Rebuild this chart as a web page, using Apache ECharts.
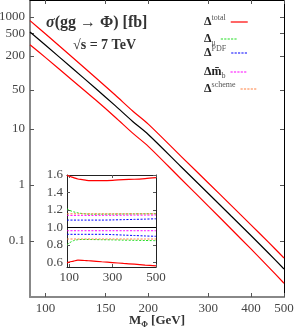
<!DOCTYPE html>
<html><head><meta charset="utf-8">
<script src="https://cdn.jsdelivr.net/npm/echarts@6/dist/echarts.min.js"></script>
<style>html,body{margin:0;padding:0;background:#fff}#c{width:295px;height:329px}</style>
</head><body><div id="c"></div>
<script>
// ---- data ----
const masses = [90,100,120,140,160,180,200,250,300,350,400,450,500];
const sigmaCentral = [537,311,119.8,53.1,26.0,13.6,7.95,2.09,0.704,0.279,0.125,0.061,0.0316];
const sigmaUpper   = [857,493,188,82.5,40.2,20.9,12.2,3.21,1.083,0.432,0.194,0.0951,0.0496];
const sigmaLower   = [318,187,73.3,33.1,16.2,8.40,4.89,1.264,0.420,0.1635,0.0721,0.0346,0.0176];

const ratioTotalUp  = [1.596,1.585,1.570,1.554,1.547,1.539,1.536,1.536,1.539,1.547,1.551,1.559,1.570];
const ratioTotalLo  = [0.593,0.601,0.612,0.624,0.622,0.618,0.615,0.605,0.596,0.586,0.577,0.567,0.558];
const ratioMuUp     = [1.212,1.197,1.178,1.166,1.158,1.153,1.151,1.151,1.152,1.153,1.154,1.155,1.156];
const ratioMuLo     = [0.800,0.820,0.847,0.858,0.861,0.861,0.860,0.858,0.856,0.853,0.851,0.849,0.847];
const ratioPdfUp    = [1.083,1.083,1.083,1.083,1.083,1.083,1.083,1.083,1.085,1.088,1.091,1.094,1.098];
const ratioPdfLo    = [0.920,0.920,0.920,0.920,0.920,0.920,0.920,0.920,0.916,0.911,0.906,0.901,0.897];
const ratioMbUp     = [1.137,1.137,1.137,1.137,1.137,1.137,1.137,1.138,1.138,1.139,1.140,1.140,1.141];
const ratioMbLo     = [0.961,0.961,0.961,0.961,0.961,0.961,0.961,0.961,0.961,0.961,0.961,0.961,0.961];
const ratioSchemeUp = [1.155,1.155,1.155,1.155,1.155,1.155,1.155,1.155,1.155,1.155,1.155,1.155,1.155];
const ratioSchemeLo = [0.866,0.866,0.866,0.866,0.866,0.866,0.866,0.866,0.866,0.866,0.866,0.866,0.866];
const ratioCentral = 1.0;

const xTicksMain  = [100,150,200,300,400,500];
const yTicksMain  = [1000,500,200,50,10,1,0.1];
const xTicksInset = [100,300,500];
const yTicksInset = [0.6,0.8,1.0,1.2,1.4,1.6];

const legendNames = ['total','mu','pdf','mb','scheme'];
const legendLabels = ['{d|Δ}{sup|total}','{d|Δ}{sub|μ}','{d|Δ}{sup|PDF}','{d|Δ}{d|m̄}{sub|b}','{d|Δ}{sup|scheme}'];

// ---- styles ----
const FONT = "'Liberation Serif','DejaVu Serif',serif";
const pairs = arr => masses.map((m,i)=>[m, arr[i]]);
const fmtNum = v => String(+(+v).toPrecision(4));

// legend icons: a solid or dashed horizontal stroke inside a 17x16 box
const ICON_SOLID = 'path://M0,0L0,0M17,16L17,16M0,7.4h17v1.2h-17z';
let dashPath = 'path://M0,0L0,0M17,16L17,16';
for (let x = 0; x < 17; x += 3.4) dashPath += 'M' + x + ',7.5h2.2v1h-2.2z';
const ICON_DASH = dashPath;

const chart = echarts.init(document.getElementById('c'), null, {renderer:'canvas'});

function lineS(name, xi, yi, arr, color, dashed, width){
  return {name, type:'line', xAxisIndex:xi, yAxisIndex:yi, data:pairs(arr),
    symbol:'none', showSymbol:false, smooth:0.3, silent:true, animation:false,
    lineStyle:{color, width: width||1, type: dashed ? [2,1.5] : 'solid'},
    itemStyle:{color}};
}

const labelStyle = {fontFamily:FONT, fontSize:13, color:'#444'};

const legendRich = {
  d:{fontFamily:FONT, fontSize:12, fontWeight:'bold', color:'#222', lineHeight:16},
  sup:{fontFamily:FONT, fontSize:8, color:'#555', lineHeight:9, verticalAlign:'top'},
  sub:{fontFamily:FONT, fontSize:8, color:'#555', lineHeight:9, verticalAlign:'bottom'}
};
const legendTops = [22,39,53,72,89];
const legendDashed = [false,true,true,true,true];

const option = {
  animation:false,
  backgroundColor:'#fff',
  title:[
    {text:'{i|σ}{b|(gg → Φ) [fb]}', left:46, top:15, padding:0,
     textStyle:{rich:{
       i:{fontFamily:FONT, fontStyle:'italic', fontSize:16, color:'#333'},
       b:{fontFamily:FONT, fontWeight:'bold', fontSize:16, color:'#333'}}}},
    {text:'√s = 7 TeV', left:73, top:38, padding:0,
     textStyle:{fontFamily:FONT, fontWeight:'bold', fontSize:14, color:'#333'}}
  ],
  legend: legendNames.map((n,k)=>({
    data:[n], left:204, top:legendTops[k]-8, padding:0, itemWidth:17, itemHeight:16,
    align:'right', selectedMode:false, icon: legendDashed[k] ? ICON_DASH : ICON_SOLID,
    formatter: () => legendLabels[k],
    textStyle:{width:43, rich:legendRich}
  })),
  grid:[
    {left:30, top:0, width:254, height:297, containLabel:false, outerBoundsMode:'none'},
    {left:67, top:175, width:89, height:92, containLabel:false, outerBoundsMode:'none',
     show:true, backgroundColor:'#fff', borderWidth:0}
  ],
  xAxis:[
    {gridIndex:0, type:'log', logBase:10, min:90, max:500, position:'bottom',
     axisLine:{show:true, lineStyle:{color:'#888', width:2}},
     axisTick:{show:true, inside:true, length:4, customValues:xTicksMain, lineStyle:{color:'#555'}},
     axisLabel:{show:true, customValues:xTicksMain, margin:5, formatter:fmtNum, ...labelStyle},
     splitLine:{show:false}, minorTick:{show:false},
     name:'{b|M}{s|Φ}{b| [GeV]}', nameLocation:'middle', nameGap:16, nameMoveOverlap:false,
     nameTextStyle:{rich:{
       b:{fontFamily:FONT, fontWeight:'bold', fontSize:13, color:'#333', lineHeight:16},
       s:{fontFamily:FONT, fontWeight:'bold', fontSize:8, color:'#333', lineHeight:8, verticalAlign:'bottom'}}}},
    {gridIndex:0, type:'log', logBase:10, min:90, max:500, position:'top',
     axisLine:{show:true, lineStyle:{color:'#000', width:1}},
     axisTick:{show:true, inside:true, length:4, customValues:xTicksMain, lineStyle:{color:'#555'}},
     axisLabel:{show:false}, splitLine:{show:false}},
    {gridIndex:1, type:'value', min:90, max:500, position:'bottom',
     axisLine:{show:true, lineStyle:{color:'#222', width:1}},
     axisTick:{show:true, inside:true, length:3, customValues:xTicksInset, lineStyle:{color:'#555'}},
     axisLabel:{show:true, customValues:xTicksInset, margin:4, ...labelStyle},
     splitLine:{show:false}},
    {gridIndex:1, type:'value', min:90, max:500, position:'top',
     axisLine:{show:true, lineStyle:{color:'#222', width:1}},
     axisTick:{show:true, inside:true, length:3, customValues:xTicksInset, lineStyle:{color:'#555'}},
     axisLabel:{show:false}, splitLine:{show:false}}
  ],
  yAxis:[
    {gridIndex:0, type:'log', logBase:10, min:0.01, max:2000, position:'left',
     axisLine:{show:true, lineStyle:{color:'#888', width:2}},
     axisTick:{show:true, inside:true, length:4, customValues:yTicksMain, lineStyle:{color:'#555'}},
     axisLabel:{show:true, customValues:yTicksMain, margin:5, formatter:fmtNum, ...labelStyle},
     splitLine:{show:false}},
    {gridIndex:0, type:'log', logBase:10, min:0.01, max:2000, position:'right',
     axisLine:{show:true, lineStyle:{color:'#000', width:1}},
     axisTick:{show:true, inside:true, length:4, customValues:yTicksMain, lineStyle:{color:'#555'}},
     axisLabel:{show:false}, splitLine:{show:false}},
    {gridIndex:1, type:'value', min:0.545, max:1.6, position:'left',
     axisLine:{show:true, lineStyle:{color:'#222', width:1}},
     axisTick:{show:true, inside:true, length:3, customValues:yTicksInset, lineStyle:{color:'#555'}},
     axisLabel:{show:true, customValues:yTicksInset, margin:4, formatter:v=>(+v).toFixed(1), ...labelStyle},
     splitLine:{show:false}},
    {gridIndex:1, type:'value', min:0.545, max:1.6, position:'right',
     axisLine:{show:true, lineStyle:{color:'#222', width:1}},
     axisTick:{show:true, inside:true, length:3, customValues:yTicksInset, lineStyle:{color:'#555'}},
     axisLabel:{show:false}, splitLine:{show:false}}
  ],
  series:[
    lineS('main upper',0,0,sigmaUpper,'#ff0000',false,1.2),
    lineS('main central',0,0,sigmaCentral,'#000000',false,1.2),
    lineS('main lower',0,0,sigmaLower,'#ff0000',false,1.2),
    Object.assign(lineS('total',2,2,ratioTotalUp,'#ff0000',false,1.2), {
      markLine:{silent:true, symbol:'none', label:{show:false}, animation:false,
        lineStyle:{color:'#000', width:1, type:'solid'}, data:[{yAxis:ratioCentral}]}}),
    lineS('total',2,2,ratioTotalLo,'#ff0000',false,1.2),
    lineS('mu',2,2,ratioMuUp,'#22dd22',true),
    lineS('mu',2,2,ratioMuLo,'#22dd22',true),
    lineS('pdf',2,2,ratioPdfUp,'#0000ff',true),
    lineS('pdf',2,2,ratioPdfLo,'#0000ff',true),
    lineS('mb',2,2,ratioMbUp,'#ff00ff',true),
    lineS('mb',2,2,ratioMbLo,'#ff00ff',true),
    lineS('scheme',2,2,ratioSchemeUp,'#ff8040',true),
    lineS('scheme',2,2,ratioSchemeLo,'#ff8040',true)
  ]
};
chart.setOption(option);
</script></body></html>
